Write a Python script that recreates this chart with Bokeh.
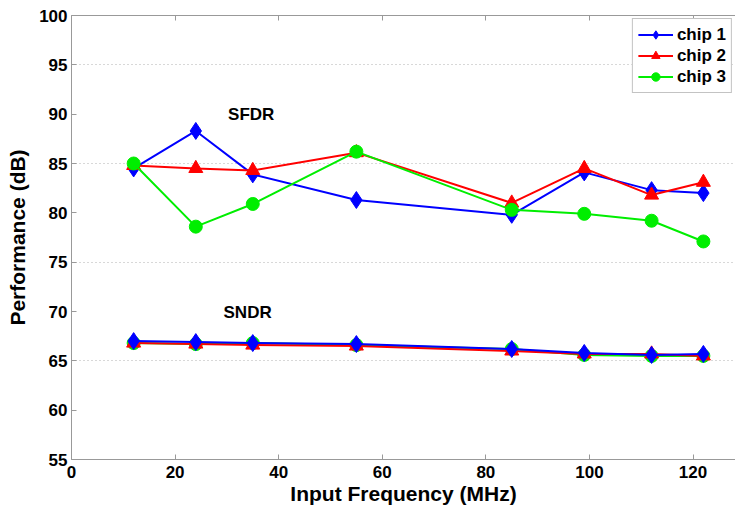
from bokeh.plotting import figure
from bokeh.models import FixedTicker, Label, LinearAxis, Range1d, Legend, LegendItem, CustomJSTickFormatter
from bokeh.embed import file_html
from bokeh.resources import INLINE

freq = [12, 24, 35, 55, 85, 99, 112, 122]
sfdr_chip1 = [84.5, 88.3, 83.9, 81.3, 79.8, 84.1, 82.3, 82.0]
sfdr_chip2 = [84.8, 84.5, 84.3, 86.1, 81.0, 84.5, 81.8, 83.1]
sfdr_chip3 = [85.0, 78.6, 80.9, 86.2, 80.3, 79.9, 79.2, 77.1]
sndr_chip1 = [67.0, 66.9, 66.8, 66.7, 66.2, 65.8, 65.6, 65.7]
sndr_chip2 = [66.8, 66.7, 66.6, 66.5, 66.0, 65.7, 65.7, 65.5]
sndr_chip3 = [66.8, 66.7, 66.8, 66.6, 66.2, 65.6, 65.5, 65.5]
x_ticks = [0, 20, 40, 60, 80, 100, 120]
y_ticks = [55, 60, 65, 70, 75, 80, 85, 90, 95, 100]
grid_ticks = [65, 75, 85, 95]

FONT = "Liberation Sans"
AXIS_GRAY = "#999999"

p = figure(width=735, height=511, output_backend="svg", toolbar_location=None,
           x_range=Range1d(0, 128.2), y_range=Range1d(55, 100),
           min_border_left=71, min_border_right=0, min_border_top=15, min_border_bottom=52)
p.outline_line_color = None
p.background_fill_color = "white"
p.border_fill_color = "white"

bottom_axis = p.below[0]
left_axis = p.left[0]

p.xgrid.visible = False
p.ygrid.ticker = FixedTicker(ticks=grid_ticks)
p.ygrid.grid_line_color = "#b0b0b0"
p.ygrid.grid_line_dash = "1 3"
p.ygrid.grid_line_width = 1

top_axis = LinearAxis(ticker=FixedTicker(ticks=x_ticks),
                      formatter=CustomJSTickFormatter(code="return ''"))
top_axis.major_label_standoff = 0
p.add_layout(top_axis, "above")

for ax in (bottom_axis, left_axis, top_axis):
    ax.axis_line_color = AXIS_GRAY
    ax.major_tick_line_color = AXIS_GRAY
    ax.major_tick_in = 5
    ax.major_tick_out = 0
    ax.minor_tick_line_color = None

for ax in (bottom_axis, left_axis):
    ax.major_label_text_font = FONT
    ax.major_label_text_font_style = "bold"
    ax.major_label_text_font_size = "17px"
    ax.major_label_text_color = "black"
    ax.axis_label_text_font = FONT
    ax.axis_label_text_font_style = "bold"
    ax.axis_label_text_font_size = "21px"
    ax.axis_label_text_color = "black"

bottom_axis.ticker = FixedTicker(ticks=x_ticks)
left_axis.ticker = FixedTicker(ticks=y_ticks)
bottom_axis.axis_label = "Input Frequency (MHz)"
left_axis.axis_label = "Performance (dB)"
bottom_axis.major_label_standoff = 6
left_axis.major_label_standoff = 4
bottom_axis.axis_label_standoff = 1
left_axis.axis_label_standoff = 7

blue, red, green = "#0000ff", "#ff0000", "#00ee00"

r1 = p.line(freq, sfdr_chip1, color=blue, line_width=2)
m1 = p.scatter(freq, sfdr_chip1, marker="diamond", size=17, color=blue)
r2 = p.line(freq, sfdr_chip2, color=red, line_width=2)
m2 = p.scatter(freq, sfdr_chip2, marker="triangle", size=14, color=red)
r3 = p.line(freq, sfdr_chip3, color=green, line_width=2)
m3 = p.scatter(freq, sfdr_chip3, marker="circle", size=13, color=green)

p.line(freq, sndr_chip3, color=green, line_width=2)
p.scatter(freq, sndr_chip3, marker="circle", size=13, color=green)
p.line(freq, sndr_chip2, color=red, line_width=2)
p.scatter(freq, sndr_chip2, marker="triangle", size=14, color=red)
p.line(freq, sndr_chip1, color=blue, line_width=2)
p.scatter(freq, sndr_chip1, marker="diamond", size=17, color=blue)

p.add_layout(Label(x=34.7, y=90.0, text="SFDR", text_font=FONT, text_font_style="bold",
                   text_font_size="17px", text_align="center", text_baseline="middle",
                   text_color="black"))
p.add_layout(Label(x=34.0, y=69.9, text="SNDR", text_font=FONT, text_font_style="bold",
                   text_font_size="17px", text_align="center", text_baseline="middle",
                   text_color="black"))

legend = Legend(items=[LegendItem(label="chip 1", renderers=[r1, m1]),
                       LegendItem(label="chip 2", renderers=[r2, m2]),
                       LegendItem(label="chip 3", renderers=[r3, m3])],
                location="top_right")
legend.label_text_font = FONT
legend.label_text_font_style = "bold"
legend.label_text_font_size = "17px"
legend.label_text_color = "black"
legend.border_line_color = "#888888"
legend.margin = 3
legend.padding = 5
legend.spacing = 0
legend.glyph_width = 35
legend.glyph_height = 21
legend.label_height = 21
legend.label_standoff = 4
legend.background_fill_alpha = 1
p.add_layout(legend)

open("out.html", "w").write(file_html(p, INLINE))
